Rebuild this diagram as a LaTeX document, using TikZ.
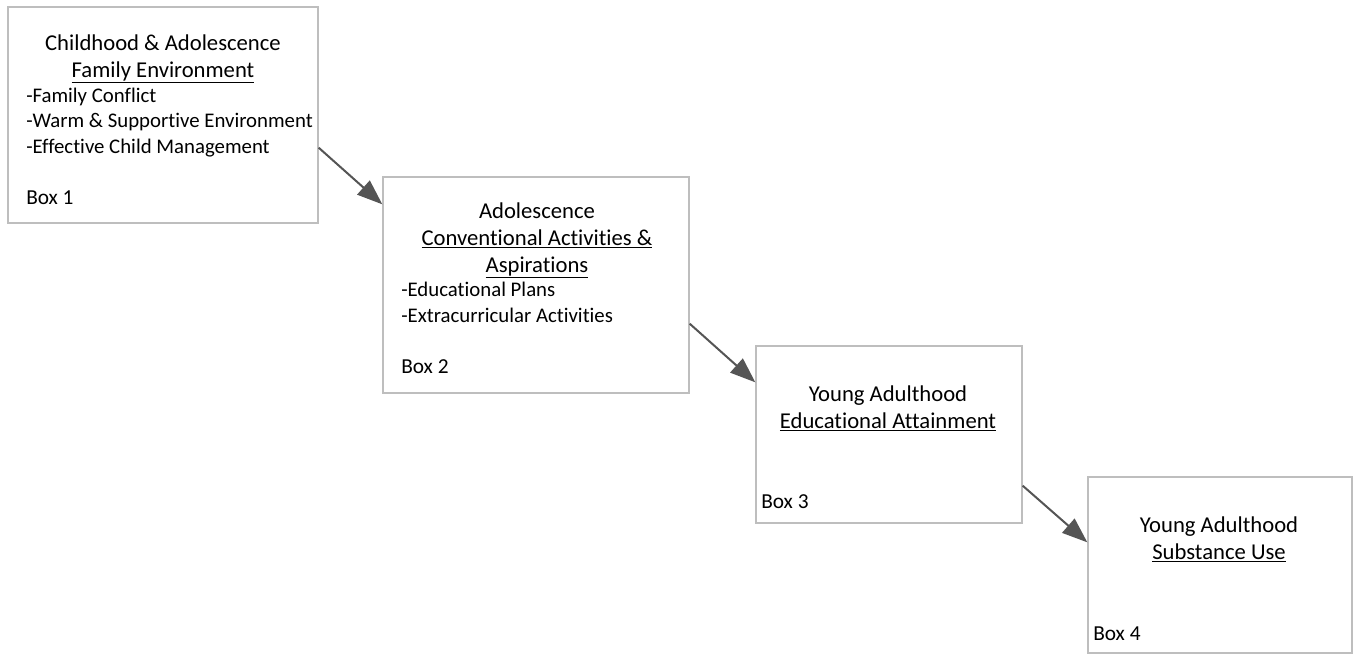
\documentclass[tikz,border=0pt]{standalone}
\usepackage{fontspec}
\setmainfont{Carlito}[Ligatures=NoCommon]
\usepackage{xcolor}
\usepackage{tikz}
\usetikzlibrary{arrows.meta,positioning,calc}
\definecolor{boxgray}{RGB}{190,190,190}
\definecolor{arrowgray}{RGB}{85,85,85}

\begin{document}
\begin{tikzpicture}[
  x=0.75pt, y=-0.75pt,
  box/.style={rectangle, draw=boxgray, line width=1pt, fill=white},
  txt/.style={inner sep=0pt, font=\fontsize{15.6}{19}\selectfont},
  title/.style={txt, align=center, anchor=base, font=\fontsize{17}{20.2}\selectfont},
  items/.style={txt, align=left, anchor=base west},
  tag/.style={txt, anchor=base west, font=\fontsize{16}{19}\selectfont},
  arrow/.style={-{Triangle[length=19pt,width=14pt]}, line width=1.5pt, draw=arrowgray, fill=arrowgray}
]
\useasboundingbox (0,0) rectangle (1359,654);

% boxes
\node[box, minimum width=232.5pt, minimum height=162pt] (box1) at (163,115) {};
\node[box, minimum width=229.5pt, minimum height=162pt] (box2) at (536,285) {};
\node[box, minimum width=199.5pt, minimum height=132.75pt] (box3) at (889,434.5) {};
\node[box, minimum width=198pt, minimum height=132pt] (box4) at (1220,565) {};

% box texts (base = last line)
\node[title] (title1) at (163,77) {Childhood \& Adolescence\\\underline{Family Environment}};
\node[items] (items1) at (26,153) {-Family Conflict\\-Warm \& Supportive Environment\\-Effective Child Management};
\node[tag] (tag1) at (26,204) {Box 1};

\node[title] (title2) at (537,272) {Adolescence\\\underline{Conventional Activities \&}\\\underline{Aspirations}};
\node[items] (items2) at (401,322) {-Educational Plans\\-Extracurricular Activities};
\node[tag] (tag2) at (401,373) {Box 2};

\node[title] (title3) at (888,428) {Young Adulthood\\\underline{Educational Attainment}};
\node[tag] (tag3) at (761,508) {Box 3};

\node[title] (title4) at (1219,559) {Young Adulthood\\\underline{Substance Use}};
\node[tag] (tag4) at (1093,640) {Box 4};

% connectors
\coordinate (out1) at ($(box1.south east)+(0,-76)$);
\coordinate (in2) at ($(box2.north west)+(0,28)$);
\coordinate (out2) at ($(box2.south east)+(0,-70)$);
\coordinate (in3) at ($(box3.north west)+(0,37)$);
\coordinate (out3) at ($(box3.south east)+(0,-38)$);
\coordinate (in4) at ($(box4.north west)+(0,66)$);

\draw[arrow] (out1) -- (in2);
\draw[arrow] (out2) -- (in3);
\draw[arrow] (out3) -- (in4);
\end{tikzpicture}
\end{document}
